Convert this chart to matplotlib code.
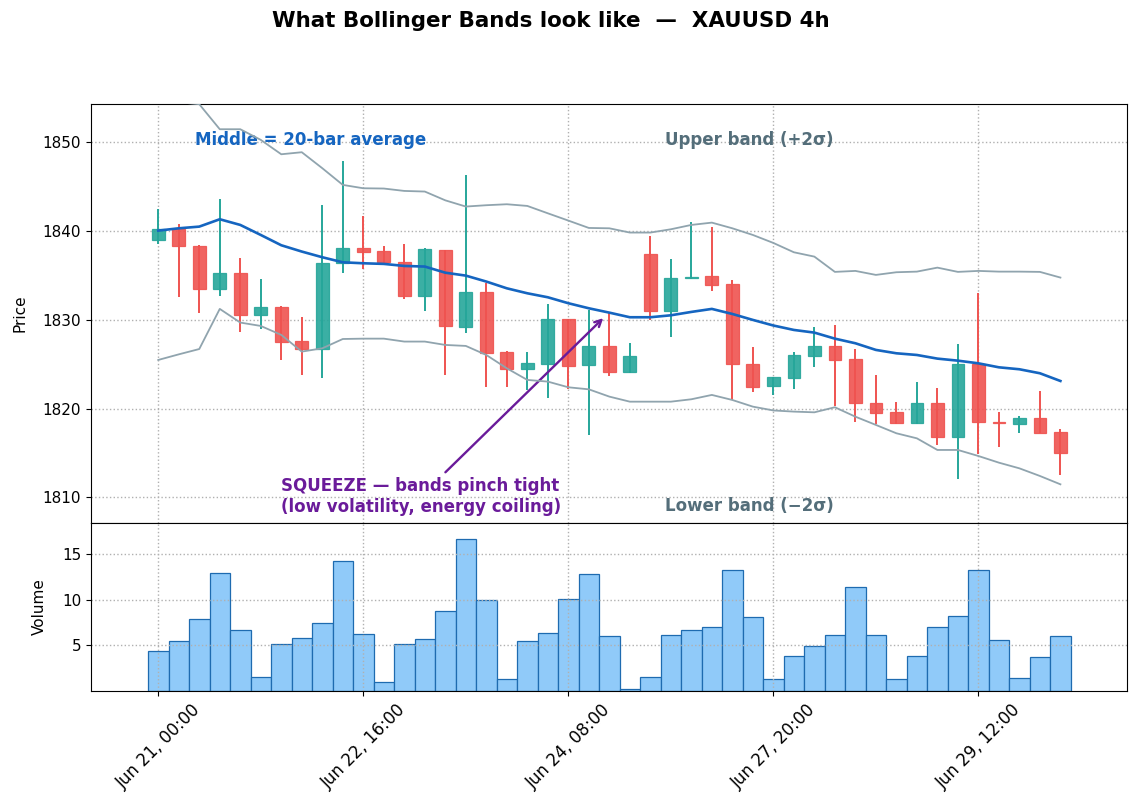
import matplotlib.pyplot as plt

# 4h candles
labels = ["Jun 21, 00:00", "Jun 22, 16:00", "Jun 24, 08:00", "Jun 27, 20:00", "Jun 29, 12:00"]
label_pos = [0, 10, 20, 30, 40]

opens = [1838.99, 1840.19, 1838.32, 1833.47, 1835.24, 1830.54, 1831.40, 1827.57, 1826.67, 1836.36,
         1838.05, 1837.75, 1836.55, 1832.64, 1837.83, 1829.15, 1833.17, 1826.41, 1824.49, 1825.02,
         1830.05, 1824.91, 1827.09, 1824.12, 1837.45, 1830.99, 1834.67, 1834.97, 1833.99, 1825.06,
         1822.54, 1823.44, 1825.88, 1827.01, 1825.55, 1820.66, 1819.65, 1818.37, 1820.66, 1816.79,
         1824.98, 1818.52, 1818.26, 1818.90, 1817.32]
closes = [1840.19, 1838.32, 1833.47, 1835.24, 1830.54, 1831.40, 1827.46, 1826.67, 1836.36, 1838.05,
          1837.60, 1836.47, 1832.64, 1837.94, 1829.30, 1833.17, 1826.22, 1824.49, 1825.17, 1830.05,
          1824.79, 1827.09, 1824.12, 1825.96, 1830.99, 1834.75, 1834.86, 1833.92, 1824.98, 1822.43,
          1823.52, 1826.00, 1827.01, 1825.47, 1820.59, 1819.46, 1818.37, 1820.66, 1816.79, 1824.98,
          1818.48, 1818.37, 1818.90, 1817.28, 1814.99]
highs = [1842.45, 1840.79, 1838.39, 1843.61, 1836.96, 1834.60, 1831.55, 1830.32, 1842.93, 1847.89,
         1841.69, 1838.32, 1838.54, 1838.05, 1837.90, 1846.31, 1834.18, 1826.45, 1826.33, 1831.78,
         1830.05, 1831.10, 1830.73, 1827.35, 1839.44, 1836.81, 1840.98, 1840.49, 1834.45, 1826.93,
         1823.60, 1826.37, 1829.19, 1829.41, 1826.75, 1823.78, 1820.70, 1822.95, 1822.32, 1827.24,
         1833.06, 1819.61, 1819.16, 1821.94, 1817.66]
lows = [1838.50, 1832.53, 1830.73, 1832.72, 1828.59, 1829.00, 1825.51, 1823.82, 1823.40, 1835.31,
        1835.72, 1836.40, 1832.38, 1830.99, 1823.82, 1828.55, 1822.47, 1822.47, 1822.09, 1821.15,
        1822.24, 1817.02, 1823.67, 1824.05, 1829.98, 1828.10, 1834.60, 1833.28, 1820.96, 1821.90,
        1821.56, 1822.24, 1824.72, 1820.32, 1818.52, 1818.26, 1818.30, 1818.30, 1815.93, 1812.02,
        1814.84, 1815.63, 1817.24, 1817.20, 1812.47]
volume = [4.4, 5.5, 7.9, 12.9, 6.7, 1.5, 5.1, 5.8, 7.5, 14.2,
          6.3, 1.0, 5.1, 5.7, 8.8, 16.6, 10.0, 1.3, 5.5, 6.4,
          10.1, 12.8, 6.0, 0.25, 1.5, 6.1, 6.7, 7.0, 13.2, 8.1,
          1.3, 3.8, 4.9, 6.1, 11.4, 6.1, 1.3, 3.8, 7.0, 8.2,
          13.3, 5.6, 1.4, 3.7, 6.0]

middle = [1840.04, 1840.30, 1840.49, 1841.32, 1840.68, 1839.55, 1838.39, 1837.68, 1837.04, 1836.47,
          1836.36, 1836.29, 1836.06, 1835.99, 1835.30, 1834.97, 1834.30, 1833.54, 1832.98, 1832.53,
          1831.86, 1831.29, 1830.80, 1830.28, 1830.28, 1830.50, 1830.88, 1831.22, 1830.65, 1829.98,
          1829.35, 1828.85, 1828.55, 1827.87, 1827.35, 1826.60, 1826.22, 1826.03, 1825.62, 1825.39,
          1825.09, 1824.64, 1824.42, 1823.97, 1823.10]
upper = [1854.60, 1854.50, 1854.28, 1851.46, 1851.46, 1850.26, 1848.64, 1848.87, 1847.07, 1845.19,
         1844.81, 1844.78, 1844.51, 1844.44, 1843.45, 1842.75, 1842.90, 1843.01, 1842.82, 1841.99,
         1841.17, 1840.34, 1840.30, 1839.82, 1839.82, 1840.19, 1840.68, 1840.94, 1840.30, 1839.55,
         1838.65, 1837.60, 1837.11, 1835.39, 1835.50, 1835.05, 1835.35, 1835.42, 1835.87, 1835.39,
         1835.50, 1835.42, 1835.42, 1835.39, 1834.75]
lower = [1825.47, 1826.10, 1826.70, 1831.22, 1829.68, 1829.30, 1828.29, 1826.41, 1826.78, 1827.83,
         1827.87, 1827.87, 1827.54, 1827.54, 1827.16, 1827.05, 1826.03, 1824.53, 1823.22, 1823.03,
         1822.39, 1822.16, 1821.34, 1820.77, 1820.77, 1820.77, 1821.04, 1821.53, 1820.96, 1820.21,
         1819.78, 1819.65, 1819.57, 1820.14, 1819.08, 1818.15, 1817.21, 1816.64, 1815.33, 1815.33,
         1814.65, 1813.90, 1813.26, 1812.40, 1811.46]

x = list(range(len(opens)))
GREEN = "#26a69a"
RED = "#ef5350"

fig = plt.figure(figsize=(11.39, 8.07), dpi=100)
ax = fig.add_axes([0.0799, 0.3519, 0.9096, 0.5192])
axv = fig.add_axes([0.0799, 0.1437, 0.9096, 0.2082], sharex=ax)

# candles
cols = [GREEN if c >= o else RED for o, c in zip(opens, closes)]
ax.vlines(x, lows, highs, colors=cols, linewidth=1.4, zorder=2)
body = [c - o if abs(c - o) > 0.15 else (0.15 if c >= o else -0.15) for o, c in zip(opens, closes)]
ax.bar(x, body, bottom=opens, width=0.62, color=cols, edgecolor=cols,
       linewidth=0.9, alpha=0.9, zorder=3)

# bands
ax.plot(x, upper, color="#90a4ae", linewidth=1.3, zorder=4)
ax.plot(x, lower, color="#90a4ae", linewidth=1.3, zorder=4)
ax.plot(x, middle, color="#1565c0", linewidth=1.9, zorder=5)

ax.text(0.10, 0.914, "Middle = 20-bar average", transform=ax.transAxes,
        color="#1565c0", fontsize=12, fontweight="bold", va="center")
ax.text(0.554, 0.914, "Upper band (+2σ)", transform=ax.transAxes,
        color="#546e7a", fontsize=12, fontweight="bold", va="center")
ax.text(0.554, 0.04, "Lower band (−2σ)", transform=ax.transAxes,
        color="#546e7a", fontsize=12, fontweight="bold", va="center")

ax.annotate("SQUEEZE — bands pinch tight\n(low volatility, energy coiling)",
            xy=(21.8, 1830.4), xytext=(12.8, 1810.1),
            color="#6a1b9a", fontsize=12, fontweight="bold",
            ha="center", va="center", multialignment="left",
            arrowprops=dict(arrowstyle="->", color="#6a1b9a", lw=1.7))

ax.set_ylabel("Price", fontsize=11, labelpad=11)
ax.set_ylim(1807.1, 1854.3)
ax.set_xlim(-3.28, 47.25)
ax.grid(True, linestyle=":", color="#b0b0b0", linewidth=1.0)
ax.tick_params(labelbottom=False, bottom=False, labelsize=11)

# volume
axv.bar(x, volume, width=1.0, color="#90caf9", edgecolor="#1e6bb0", linewidth=0.9)
axv.set_ylim(0, 18.4)
axv.set_yticks([5, 10, 15])
axv.set_ylabel("Volume", fontsize=11, labelpad=11)
axv.grid(True, linestyle=":", color="#b0b0b0", linewidth=1.0)
axv.tick_params(labelsize=11)
axv.set_xticks(label_pos)
axv.set_xticklabels(labels, rotation=45, fontsize=12)

fig.suptitle("What Bollinger Bands look like  —  XAUUSD 4h", x=0.484, y=0.974,
             fontsize=15.4, fontweight="bold", va="center")

fig.savefig("out.png", dpi=100)
